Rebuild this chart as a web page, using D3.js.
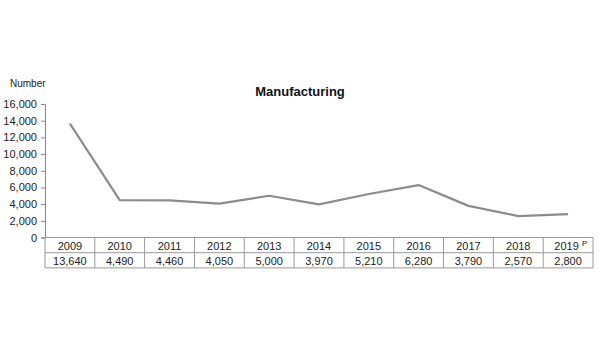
<!DOCTYPE html>
<html>
<head>
<meta charset="utf-8">
<script src="https://cdn.jsdelivr.net/npm/d3@7"></script>
<style>
body { margin: 0; background: #fff; }
text { font-family: "Liberation Sans", Arial, sans-serif; }
</style>
</head>
<body>
<div id="chart"></div>
<script>
var years = ["2009","2010","2011","2012","2013","2014","2015","2016","2017","2018","2019"]
var values = [13640, 4490, 4460, 4050, 5000, 3970, 5210, 6280, 3790, 2570, 2800]
var valueLabels = ["13,640","4,490","4,460","4,050","5,000","3,970","5,210","6,280","3,790","2,570","2,800"]
var yTicks = [0, 2000, 4000, 6000, 8000, 10000, 12000, 14000, 16000]

var width = 600,
    height = 360,
    plotLeft = 45,
    plotRight = 593,
    plotTop = 104,
    plotBottom = 237.5,
    rowH = 15.2

var svg = d3.select("#chart").append("svg")
    .attr("width", width)
    .attr("height", height)

var x = d3.scaleBand()
    .domain(years)
    .range([plotLeft, plotRight])

var y = d3.scaleLinear()
    .domain([0, 16000])
    .range([plotBottom, plotTop])

// title
svg.append("text")
    .attr("x", 300)
    .attr("y", 96)
    .attr("text-anchor", "middle")
    .style("font-size", "13px")
    .style("font-weight", "bold")
    .attr("fill", "#111")
    .text("Manufacturing")

svg.append("text")
    .attr("x", 10)
    .attr("y", 87)
    .style("font-size", "10px")
    .attr("fill", "#222")
    .text("Number")

// y axis
var yAxis = d3.axisLeft(y)
    .tickValues(yTicks)
    .tickSize(4)
    .tickPadding(4)
    .tickFormat(d3.format(","))

var ya = svg.append("g")
    .attr("transform", "translate(" + plotLeft + ",0)")
    .call(yAxis)
ya.select(".domain").attr("stroke", "#888")
ya.selectAll(".tick line").attr("stroke", "#888")
ya.selectAll(".tick text")
    .style("font-size", "11px")
    .attr("fill", "#222")
    .style("font-family", "'Liberation Sans', Arial, sans-serif")

// data table
var table = svg.append("g")
var bw = x.bandwidth()
table.selectAll(".hline")
    .data([plotBottom, plotBottom + rowH, plotBottom + 2 * rowH])
    .enter().append("line")
    .attr("x1", plotLeft).attr("x2", plotRight)
    .attr("y1", function(d){return d}).attr("y2", function(d){return d})
    .attr("stroke", "#999")
table.selectAll(".vline")
    .data(years.concat(["end"]))
    .enter().append("line")
    .attr("x1", function(d, i){return plotLeft + i * bw})
    .attr("x2", function(d, i){return plotLeft + i * bw})
    .attr("y1", plotBottom).attr("y2", plotBottom + 2 * rowH)
    .attr("stroke", "#999")

table.selectAll(".yr")
    .data(years)
    .enter().append("text")
    .attr("x", function(d, i){return x(d) + bw / 2 + (i == years.length - 1 ? -1.5 : 0)})
    .attr("y", plotBottom + 12)
    .attr("text-anchor", "middle")
    .style("font-size", "11px")
    .attr("fill", "#222")
    .text(function(d){return d})

svg.append("text")
    .attr("x", x("2019") + bw / 2 + 14)
    .attr("y", plotBottom + 8)
    .style("font-size", "8px")
    .attr("fill", "#222")
    .text("P")

table.selectAll(".val")
    .data(valueLabels)
    .enter().append("text")
    .attr("x", function(d, i){return x(years[i]) + bw / 2})
    .attr("y", plotBottom + rowH + 12)
    .attr("text-anchor", "middle")
    .style("font-size", "11px")
    .attr("fill", "#222")
    .text(function(d){return d})

// line
var line = d3.line()
    .x(function(d, i){return x(years[i]) + bw / 2})
    .y(function(d){return y(d)})

svg.append("path")
    .datum(values)
    .attr("d", line)
    .attr("fill", "none")
    .attr("stroke", "#8c8c8c")
    .attr("stroke-width", 2.2)
    .attr("stroke-linejoin", "round")
</script>
</body>
</html>
